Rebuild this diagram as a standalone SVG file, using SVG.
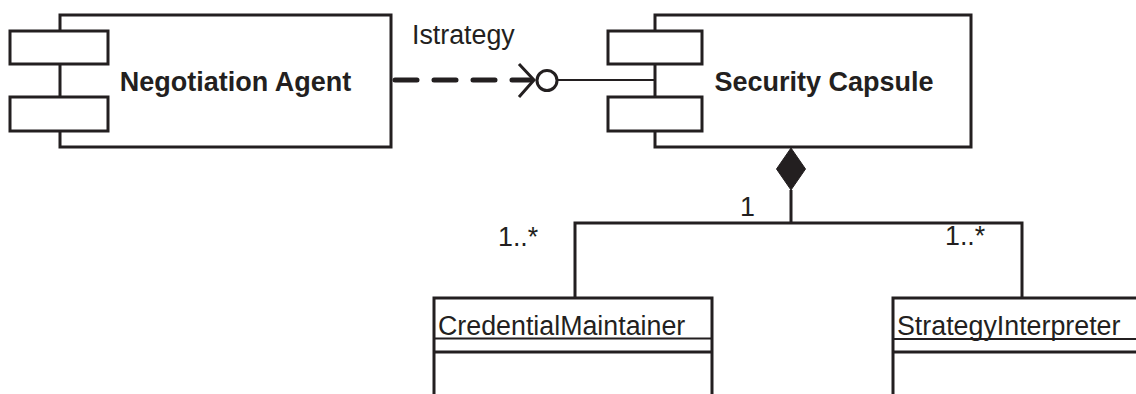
<svg xmlns="http://www.w3.org/2000/svg" width="1136" height="394" viewBox="0 0 1136 394">
  <style>
    .box { fill: #fff; stroke: #231f20; stroke-width: 3; }
    .line { fill: none; stroke: #231f20; stroke-width: 3; }
    .title { font-family: "Liberation Sans", Arial, sans-serif; font-size: 27px; font-weight: bold; fill: #231f20; }
    .lbl { font-family: "Liberation Sans", Arial, sans-serif; font-size: 26.8px; fill: #231f20; }
  </style>
  <rect width="1136" height="394" fill="#fff"/>

  <!-- Negotiation Agent component -->
  <g id="negotiation-agent">
    <rect class="box" x="60" y="15" width="331" height="132"/>
    <rect class="box" x="10" y="31" width="98" height="33"/>
    <rect class="box" x="10" y="97" width="98" height="34"/>
    <text class="title" x="235.5" y="91" text-anchor="middle">Negotiation Agent</text>
  </g>

  <!-- Security Capsule component -->
  <g id="security-capsule">
    <rect class="box" x="655" y="15" width="316" height="132"/>
    <rect class="box" x="608" y="31" width="94" height="33"/>
    <rect class="box" x="608" y="97" width="94" height="34"/>
    <text class="title" x="824" y="91" text-anchor="middle">Security Capsule</text>
  </g>

  <!-- CredentialMaintainer class -->
  <g id="credential-maintainer">
    <path class="line" d="M434,400 V298 H712 V400"/>
    <line x1="434" y1="338.5" x2="712" y2="338.5" stroke="#231f20" stroke-width="2"/>
    <line class="line" x1="434" y1="352" x2="712" y2="352"/>
    <text class="lbl" x="438" y="335">CredentialMaintainer</text>
  </g>

  <!-- StrategyInterpreter class -->
  <g id="strategy-interpreter">
    <path class="line" d="M893,400 V298 H1140"/>
    <line x1="893" y1="339" x2="1140" y2="339" stroke="#231f20" stroke-width="2"/>
    <line class="line" x1="893" y1="352" x2="1140" y2="352"/>
    <text class="lbl" x="897" y="335">StrategyInterpreter</text>
  </g>

  <!-- Connectors -->
  <g id="connectors">
    <!-- dependency on the Istrategy interface -->
    <line x1="395" y1="80" x2="531" y2="80" stroke="#231f20" stroke-width="5" stroke-linecap="round" stroke-dasharray="22 17"/>
    <path d="M519,64 L534,80 L519,97" fill="none" stroke="#231f20" stroke-width="3"/>
    <line x1="557" y1="80" x2="655" y2="80" stroke="#231f20" stroke-width="2"/>
    <circle cx="547" cy="80.5" r="10" fill="#fff" stroke="#231f20" stroke-width="3"/>
    <text class="lbl" x="412" y="44">Istrategy</text>

    <!-- composition -->
    <path d="M791,148 L776.5,169 L791,190 L805.5,169 Z" fill="#231f20" stroke="#231f20" stroke-width="1"/>
    <path class="line" d="M791,190 V223"/>
    <path class="line" d="M575,298 V223 H1022 V298"/>
    <text class="lbl" x="740" y="216">1</text>
    <text class="lbl" x="498" y="246">1..*</text>
    <text class="lbl" x="945" y="245">1..*</text>
  </g>
</svg>
